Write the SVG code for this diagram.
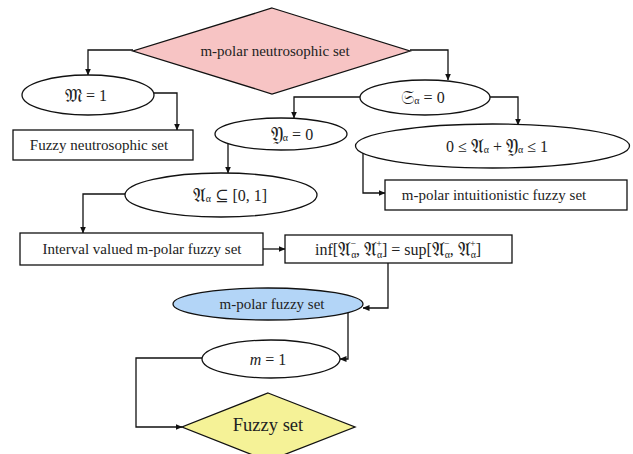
<svg xmlns="http://www.w3.org/2000/svg" width="633" height="454" viewBox="0 0 633 454">
<defs>
<marker id="ah" markerWidth="7" markerHeight="6" refX="6.5" refY="3" orient="auto" markerUnits="userSpaceOnUse">
<path d="M0,0 L7,3 L0,6 z" fill="#111"/>
</marker>
<style>
.n{fill:#fff;stroke:#111;stroke-width:1.3}
.t{font-family:"Liberation Serif","DejaVu Serif","Noto Sans",serif;font-size:15px;fill:#222;text-anchor:middle;dominant-baseline:central}
.m{font-family:"Liberation Serif","DejaVu Serif","Noto Sans",serif;font-size:16px;fill:#222;text-anchor:middle;dominant-baseline:central}
.f{font-size:19px}
.s{font-size:10px}
.c{fill:none;stroke:#111;stroke-width:1.3;marker-end:url(#ah)}
</style>
</defs>
<rect width="633" height="454" fill="#fff"/>
<g id="connectors">
<path class="c" d="M133,50 H88 V75"/>
<path class="c" d="M154,93 H177 V130"/>
<path class="c" d="M410,50 H448 V80"/>
<path class="c" d="M360,97 H294 V118"/>
<path class="c" d="M490,97 H518 V125"/>
<path class="c" d="M363,153 V193 H385"/>
<path class="c" d="M228,143 V173"/>
<path class="c" d="M126,194 H83 V233"/>
<path class="c" d="M263,249 H285"/>
<path class="c" d="M388,263 V308 H363"/>
<path class="c" d="M348,312 V359 H340"/>
<path class="c" d="M202,358 H136 V427 H182"/>
</g>
<g id="n1">
<polygon points="272,8 410,51 272,94 133,51" fill="#f7c4c4" stroke="#111" stroke-width="1.3"/>
<text class="t" x="275" y="51">m-polar neutrosophic set</text>
</g>
<g id="n2">
<ellipse class="n" cx="88" cy="95" rx="66" ry="20"/>
<text class="m" x="86" y="95"><tspan class="f">𝔐</tspan> = 1</text>
</g>
<g id="n3">
<rect class="n" x="13" y="130" width="180" height="30"/>
<text class="t" x="99" y="145">Fuzzy neutrosophic set</text>
</g>
<g id="n4">
<ellipse class="n" cx="425" cy="97.5" rx="65" ry="17.5"/>
<text class="m" x="423" y="97"><tspan class="f">𝔖</tspan><tspan class="s" dy="3">α</tspan><tspan dy="-3"> = 0</tspan></text>
</g>
<g id="n5">
<ellipse class="n" cx="281" cy="134" rx="66" ry="16"/>
<text class="m" x="292" y="134"><tspan class="f">𝔜</tspan><tspan class="s" dy="3">α</tspan><tspan dy="-3"> = 0</tspan></text>
</g>
<g id="n6">
<ellipse class="n" cx="492.5" cy="146" rx="137" ry="22"/>
<text class="m" x="497" y="146">0 ≤ <tspan class="f">𝔄</tspan><tspan class="s" dy="3">α</tspan><tspan dy="-3"> + </tspan><tspan class="f">𝔜</tspan><tspan class="s" dy="3">α</tspan><tspan dy="-3"> ≤ 1</tspan></text>
</g>
<g id="n7">
<rect class="n" x="385" y="180" width="242" height="30"/>
<text class="t" x="494" y="195">m-polar intuitionistic fuzzy set</text>
</g>
<g id="n8">
<ellipse class="n" cx="221" cy="195" rx="96" ry="22"/>
<text class="m" x="230" y="195"><tspan class="f">𝔄</tspan><tspan class="s" dy="3">α</tspan><tspan dy="-3"> ⊆ [0, 1]</tspan></text>
</g>
<g id="n9">
<rect class="n" x="20" y="233" width="243" height="32"/>
<text class="t" x="142" y="249">Interval valued m-polar fuzzy set</text>
</g>
<g id="n10">
<rect class="n" x="285" y="235" width="227" height="28"/>
<text class="m" x="398" y="249">inf[<tspan class="f">𝔄</tspan><tspan class="s" dy="5">α</tspan><tspan class="s" dx="-6" dy="-11">−</tspan><tspan dy="6">, </tspan><tspan class="f">𝔄</tspan><tspan class="s" dy="5">α</tspan><tspan class="s" dx="-6" dy="-11">+</tspan><tspan dy="6">] = sup[</tspan><tspan class="f">𝔄</tspan><tspan class="s" dy="5">α</tspan><tspan class="s" dx="-6" dy="-11">−</tspan><tspan dy="6">, </tspan><tspan class="f">𝔄</tspan><tspan class="s" dy="5">α</tspan><tspan class="s" dx="-6" dy="-11">+</tspan><tspan dy="6">]</tspan></text>
</g>
<g id="n11">
<ellipse cx="268" cy="304" rx="95" ry="16" fill="#b3d5f7" stroke="#111" stroke-width="1.3"/>
<text class="t" x="272" y="304">m-polar fuzzy set</text>
</g>
<g id="n12">
<ellipse class="n" cx="271" cy="359" rx="69" ry="19"/>
<text class="m" x="268" y="359"><tspan font-style="italic">m</tspan> = 1</text>
</g>
<g id="n13">
<polygon points="268,393 355,427 268,461 182,427" fill="#f5f297" stroke="#111" stroke-width="1.3"/>
<text class="t" x="268" y="425" style="font-size:18.5px">Fuzzy set</text>
</g>
</svg>
